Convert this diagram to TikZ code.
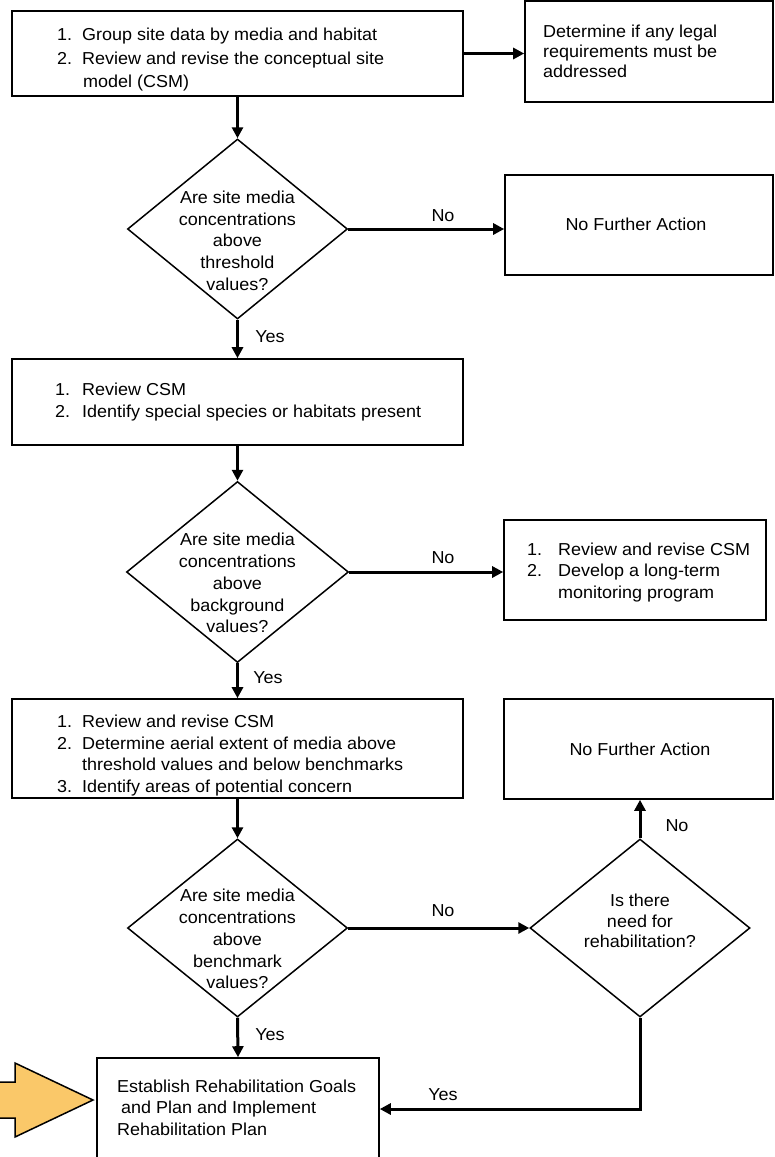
\documentclass[tikz,border=0pt]{standalone}
\usepackage{fontspec}
\setmainfont{Liberation Sans}[FakeStretch=1.04]
\usetikzlibrary{shapes.geometric,arrows.meta,calc}
\definecolor{orangefill}{RGB}{250,200,105}
\begin{document}
\begin{tikzpicture}[x=1pt,y=-1pt,
  box/.style={draw, line width=1.6pt, rectangle, inner sep=0pt},
  dia/.style={draw, line width=1.5pt, diamond, inner sep=0pt, minimum width=220pt, minimum height=180pt},
  txt/.style={font=\fontsize{17.3}{21.7}\selectfont, inner sep=0pt, text=black},
  lbl/.style={font=\fontsize{17.3}{20}\selectfont, inner sep=0pt, text=black},
  arr/.style={line width=3pt, -{Triangle[length=11pt,width=11pt]}}]
\useasboundingbox (0,0) rectangle (775,1157);

% boxes
\node[box, minimum width=451pt, minimum height=85pt]  (b1) at (237.5,53.5) {};
\node[box, minimum width=248pt, minimum height=101pt] (b2) at (649,51.5) {};
\node[box, minimum width=268pt, minimum height=100pt] (b3) at (639,225) {};
\node[box, minimum width=451pt, minimum height=86pt]  (b4) at (237.5,402) {};
\node[box, minimum width=262pt, minimum height=100pt] (b5) at (635,570) {};
\node[box, minimum width=451pt, minimum height=99pt]  (b6) at (237.5,748.5) {};
\node[box, minimum width=269pt, minimum height=100pt] (b7) at (638.5,749) {};
\node[box, minimum width=282pt, minimum height=102pt] (b8) at (238,1109) {};

% diamonds
\node[dia] (d1) at (237.5,229) {};
\node[dia, minimum width=222pt, minimum height=181pt] (d2) at (237.5,572) {};
\node[dia, minimum height=178pt] (d3) at (237.5,928) {};
\node[dia, minimum height=178pt] (d4) at (640,928) {};

% box texts
\node[txt, anchor=west, font=\fontsize{17.3}{23.3}\selectfont] (t1) at (57,59.5)
  {\begin{tabular}{@{}p{25pt}@{}l@{}}1. & Group site data by media and habitat\\ 2. & Review and revise the conceptual site\\ & \hspace{1pt}model (CSM)\end{tabular}};
\node[txt, anchor=west, font=\fontsize{17.3}{20}\selectfont] (t2) at (543,53)
  {\begin{tabular}{@{}l@{}}Determine if any legal\\ requirements must be\\ addressed\end{tabular}};
\node[txt] (t3) at (636,224) {No Further Action};
\node[txt, anchor=west] (t4) at (55,402)
  {\begin{tabular}{@{}p{27pt}@{}l@{}}1. & Review CSM\\ 2. & Identify special species or habitats present\end{tabular}};
\node[txt, anchor=west] (t5) at (527,572.5)
  {\begin{tabular}{@{}p{31pt}@{}l@{}}1. & Review and revise CSM\\ 2. & Develop a long-term\\ & monitoring program\end{tabular}};
\node[txt, anchor=west] (t6) at (57,755.5)
  {\begin{tabular}{@{}p{25pt}@{}l@{}}1. & Review and revise CSM\\ 2. & Determine aerial extent of media above\\ & threshold values and below benchmarks\\ 3. & Identify areas of potential concern\end{tabular}};
\node[txt] (t7) at (640,749) {No Further Action};
\node[txt, anchor=west] (t8) at (117,1109.5)
  {\begin{tabular}{@{}l@{}}Establish Rehabilitation Goals\\ \hspace{4pt}and Plan and Implement\\ Rehabilitation Plan\end{tabular}};

% diamond texts
\node[txt] (q1) at (237.5,242.5) {\begin{tabular}{@{}c@{}}Are site media\\ concentrations\\ above\\ threshold\\ values?\end{tabular}};
\node[txt] (q2) at (237.5,585) {\begin{tabular}{@{}c@{}}Are site media\\ concentrations\\ above\\ background\\ values?\end{tabular}};
\node[txt] (q3) at (237.5,941) {\begin{tabular}{@{}c@{}}Are site media\\ concentrations\\ above\\ benchmark\\ values?\end{tabular}};
\node[txt, font=\fontsize{17.3}{20.5}\selectfont] (q4) at (640,923) {\begin{tabular}{@{}c@{}}Is there\\ need for\\ rehabilitation?\end{tabular}};

% connectors
\draw[arr] (b1.east) -- (b1.east -| b2.west);
\draw[arr] (b1.south) -- (d1.north);
\draw[arr] (d1.east) -- (d1.east -| b3.west);
\draw[arr] (d1.south) -- (b4.north);
\draw[arr] (b4.south) -- (d2.north);
\draw[arr] (d2.east) -- (d2.east -| b5.west);
\draw[arr] (d2.south) -- (b6.north);
\draw[arr] (b6.south) -- (d3.north);
\draw[arr] (d3.east) -- (d4.west);
\draw[arr] (d4.north) -- (d4.north |- b7.south);
\draw[arr] (d3.south) -- (b8.north);
\draw[arr] (d4.south) |- (b8.east);

% labels
\node[lbl] (l1) at (443,216) {No};
\node[lbl] (l2) at (270,337) {Yes};
\node[lbl] (l3) at (443,558) {No};
\node[lbl] (l4) at (268,678) {Yes};
\node[lbl] (l5) at (443,911) {No};
\node[lbl] (l6) at (677,826) {No};
\node[lbl] (l7) at (270,1035) {Yes};
\node[lbl] (l8) at (443,1095) {Yes};

% orange block arrow
\draw[line width=1.5pt, fill=orangefill]
  (-5,1082) -- (15,1082) -- (15,1063) -- (93,1100) -- (15,1137) -- (15,1118) -- (-5,1118) -- cycle;
\end{tikzpicture}
\end{document}
